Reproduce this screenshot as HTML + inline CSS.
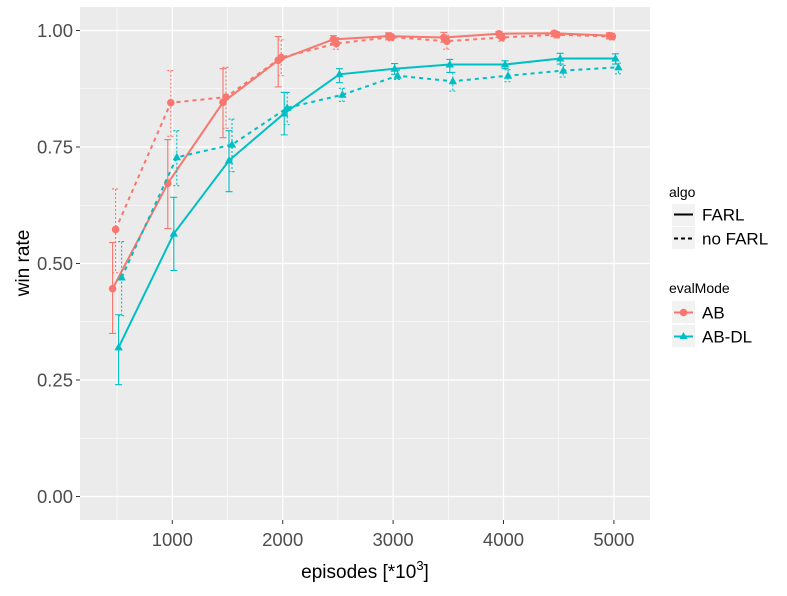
<!DOCTYPE html>
<html><head><meta charset="utf-8"><style>
body{margin:0;background:#fff;}
svg text{font-family:"Liberation Sans",Arial,sans-serif;}
</style></head><body>
<svg id="c" width="787" height="591" xmlns="http://www.w3.org/2000/svg">
<rect x="0" y="0" width="787" height="591" fill="#fff"/>
<rect x="80" y="7" width="570" height="513" fill="#EBEBEB"/>
<g id="grid"></g>
<g id="series"></g>
<g id="axes"></g>
<g id="legend">
<text x="669" y="197" font-size="14" fill="#000">algo</text>
<rect x="672" y="204" width="23" height="22" fill="#F2F2F2"/>
<line x1="674" y1="214.5" x2="693" y2="214.5" stroke="#000" stroke-width="2"/>
<text x="702" y="220.5" font-size="17">FARL</text>
<rect x="672" y="227" width="23" height="22" fill="#F2F2F2"/>
<line x1="674" y1="238.5" x2="693" y2="238.5" stroke="#000" stroke-width="2" stroke-dasharray="4,3"/>
<text x="702" y="244.5" font-size="17">no FARL</text>
<text x="669" y="293" font-size="14">evalMode</text>
<rect x="672" y="301" width="23" height="22" fill="#F2F2F2"/>
<line x1="674" y1="312.5" x2="693" y2="312.5" stroke="#F8766D" stroke-width="2"/>
<circle cx="683.5" cy="312.5" r="3.8" fill="#F8766D"/>
<text x="702" y="318.5" font-size="17">AB</text>
<rect x="672" y="325" width="23" height="22" fill="#F2F2F2"/>
<line x1="674" y1="336.5" x2="693" y2="336.5" stroke="#00BFC4" stroke-width="2"/>
<polygon points="683.5,332 687.5,339 679.5,339" fill="#00BFC4"/>
<text x="702" y="342.5" font-size="17">AB-DL</text>
</g>
</svg>
<script>
const episodes=[500,1000,1500,2000,2500,3000,3500,4000,4500,5000];
const abFarl=[0.446,0.672,0.846,0.936,0.981,0.988,0.985,0.993,0.994,0.989];
const abFarlLo=[0.35,0.575,0.77,0.879,0.972,0.98,0.975,0.985,0.987,0.982];
const abFarlHi=[0.545,0.766,0.918,0.987,0.989,0.995,0.996,0.998,0.999,0.995];
const abNo=[0.573,0.845,0.857,0.942,0.972,0.986,0.977,0.985,0.991,0.987];
const abNoLo=[0.48,0.773,0.79,0.903,0.96,0.978,0.96,0.977,0.984,0.98];
const abNoHi=[0.66,0.914,0.921,0.98,0.985,0.993,0.99,0.993,0.997,0.994];
const dlFarl=[0.32,0.564,0.721,0.822,0.906,0.918,0.927,0.927,0.94,0.94];
const dlFarlLo=[0.24,0.485,0.654,0.776,0.888,0.906,0.91,0.918,0.928,0.928];
const dlFarlHi=[0.39,0.642,0.785,0.867,0.918,0.929,0.938,0.935,0.951,0.95];
const dlNo=[0.47,0.728,0.755,0.834,0.862,0.903,0.891,0.903,0.914,0.921];
const dlNoLo=[0.388,0.667,0.697,0.798,0.848,0.895,0.87,0.89,0.9,0.907];
const dlNoHi=[0.547,0.785,0.81,0.867,0.876,0.915,0.91,0.916,0.925,0.93];
const yTicks=[0,0.25,0.5,0.75,1.0];
const yTickLabels=["0.00","0.25","0.50","0.75","1.00"];
const xTicks=[1000,2000,3000,4000,5000];
const xTickLabels=["1000","2000","3000","4000","5000"];

const NS="http://www.w3.org/2000/svg";
const X=v=>172.3+(v-1000)*0.1104;
const Y=v=>496.5-466*v;
function mk(tag,attrs,parent){const e=document.createElementNS(NS,tag);for(const k in attrs)e.setAttribute(k,attrs[k]);parent.appendChild(e);return e;}
const grid=document.getElementById('grid'),ser=document.getElementById('series'),axes=document.getElementById('axes');
for(let v=0.125;v<1.1;v+=0.25){const l=mk('line',{x1:80,x2:650,y1:Y(v),y2:Y(v),stroke:'#fff','stroke-width':0.6},grid);

}
for(let v=500;v<=5000;v+=1000){const l=mk('line',{x1:X(v),x2:X(v),y1:7,y2:520,stroke:'#fff','stroke-width':0.6},grid);

}
yTicks.forEach((v,i)=>{const l=mk('line',{x1:80,x2:650,y1:Y(v),y2:Y(v),stroke:'#fff','stroke-width':1.2},grid);


const t=mk('line',{x1:76,x2:80,y1:Y(v),y2:Y(v),stroke:'#333','stroke-width':1},axes);


const tx=mk('text',{x:73,y:Y(v)+6.5,'text-anchor':'end','font-size':18.5,fill:'#4d4d4d'},axes);tx.textContent=yTickLabels[i];

});
xTicks.forEach((v,i)=>{const l=mk('line',{x1:X(v),x2:X(v),y1:7,y2:520,stroke:'#fff','stroke-width':1.2},grid);


const t=mk('line',{x1:X(v),x2:X(v),y1:520,y2:524,stroke:'#333','stroke-width':1},axes);


const tx=mk('text',{x:X(v),y:546,'text-anchor':'middle','font-size':18.5,fill:'#4d4d4d'},axes);tx.textContent=xTickLabels[i];

});
const xt=mk('text',{x:365,y:578,'text-anchor':'middle','font-size':19},axes);
xt.innerHTML='episodes [*10<tspan dy="-8" font-size="13">3</tspan><tspan dy="8">]</tspan>';


const yt=mk('text',{x:0,y:0,'text-anchor':'middle','font-size':19,transform:'translate(29,263) rotate(-90)'},axes);yt.textContent='win rate';



const series=[
 {name:'ab-farl',v:abFarl,lo:abFarlLo,hi:abFarlHi,c:'#F8766D',dash:null,shape:'c',off:-4.5},
 {name:'ab-no-farl',v:abNo,lo:abNoLo,hi:abNoHi,c:'#F8766D',dash:'4,4',shape:'c',off:-1.5},
 {name:'ab-dl-farl',v:dlFarl,lo:dlFarlLo,hi:dlFarlHi,c:'#00BFC4',dash:null,shape:'t',off:1.5},
 {name:'ab-dl-no-farl',v:dlNo,lo:dlNoLo,hi:dlNoHi,c:'#00BFC4',dash:'4,4',shape:'t',off:4.5}];
series.forEach(s=>{
 const g=mk('g',{},ser);
 
 
 episodes.forEach((e,i)=>{const x=X(e)+s.off;
  const eb=mk('path',{d:`M${x-3.5},${Y(s.hi[i])}H${x+3.5}M${x},${Y(s.hi[i])}V${Y(s.lo[i])}M${x-3.5},${Y(s.lo[i])}H${x+3.5}`,stroke:s.c,'stroke-width':1.1,fill:'none','stroke-dasharray':s.dash?'2,2':'none'},g);
  
  });
 const pts=episodes.map((e,i)=>(X(e)+s.off)+','+Y(s.v[i])).join(' ');
 const pl=mk('polyline',{points:pts,fill:'none',stroke:s.c,'stroke-width':2,'stroke-dasharray':s.dash||'none'},g);
 
 
 episodes.forEach((e,i)=>{const x=X(e)+s.off,y=Y(s.v[i]);let m;
  if(s.shape==='c')m=mk('circle',{cx:x,cy:y,r:3.8,fill:s.c},g);
  else m=mk('polygon',{points:`${x},${y-4.5} ${x+4.2},${y+3} ${x-4.2},${y+3}`,fill:s.c},g);
  
  });
});
</script>
</body></html>
